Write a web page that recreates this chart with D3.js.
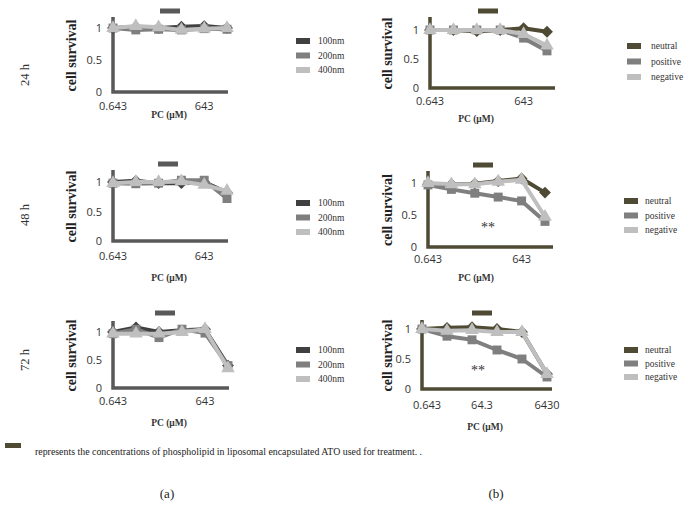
<!DOCTYPE html>
<html>
  <head>
    <meta charset="utf-8">
    <style>
      body { margin: 0; background: #fff; }
      text { font-family: "Liberation Serif", serif; }
    </style>
  </head>
  <body>
    <script src="https://d3js.org/d3.v7.min.js"></script>
    <script>
      // data (cell survival per concentration step)
      var steps = [0, 1, 2, 3, 4, 5];
      var sizeNames = ["100nm", "200nm", "400nm"];
      var chargeNames = ["neutral", "positive", "negative"];
      var yTicks = [0, 0.5, 1];

      var a24_100 = [1.00, 1.02, 1.00, 1.02, 1.03, 1.00];
      var a24_200 = [1.00, 0.97, 0.98, 0.97, 0.99, 0.98];
      var a24_400 = [1.00, 1.03, 1.01, 0.97, 0.99, 1.00];

      var a48_100 = [1.00, 1.02, 0.98, 0.98, 1.00, 0.82];
      var a48_200 = [0.98, 0.97, 0.98, 1.03, 1.03, 0.72];
      var a48_400 = [0.98, 1.00, 1.00, 1.01, 0.95, 0.85];

      var a72_100 = [1.00, 1.08, 1.00, 1.03, 1.05, 0.40];
      var a72_200 = [0.97, 1.05, 0.90, 1.05, 0.98, 0.40];
      var a72_400 = [0.97, 0.97, 0.97, 1.00, 1.05, 0.35];

      var b24_neu = [1.00, 1.00, 0.98, 1.00, 1.03, 0.97];
      var b24_pos = [1.00, 1.00, 1.00, 1.00, 0.86, 0.64];
      var b24_neg = [1.00, 1.00, 1.00, 1.00, 0.93, 0.73];

      var b48_neu = [0.98, 0.98, 0.99, 1.03, 1.07, 0.85];
      var b48_pos = [0.97, 0.90, 0.84, 0.78, 0.72, 0.40];
      var b48_neg = [1.00, 0.98, 0.98, 1.02, 1.05, 0.47];

      var b72_neu = [1.00, 1.02, 1.03, 1.00, 0.95, 0.25];
      var b72_pos = [1.00, 0.88, 0.82, 0.65, 0.50, 0.20];
      var b72_neg = [1.00, 0.97, 0.98, 0.95, 0.95, 0.25];

      var xLabelsAB = [{t: "0.643", at: 0}, {t: "643", at: 4}];
      var xLabels72b = [{t: "0.643", at: 0.2}, {t: "64.3", at: 2.4}, {t: "6430", at: 5}];
      var rowNames = ["24 h", "48 h", "72 h"];

      var grayA = "#595959", olive = "#4f4a33";
      var seriesCol = ["#404040", "#7f7f7f", "#bfbfbf"];
      var chargeCol = ["#4f4a33", "#7f7f7f", "#bfbfbf"];
      var symbols = [d3.symbolSquare, d3.symbolSquare, d3.symbolTriangle];
      var rotate = [45, 0, 0];

      var svg = d3.select("body").append("svg")
        .attr("width", 695).attr("height", 511);

      // panel layout: x range, y(0), y(1), axis top, x-axis end
      var panels = [
        {series: [a24_100, a24_200, a24_400], names: sizeNames, cols: seriesCol, axis: grayA,
         x0: 113, x1: 227, y0: 92, y1: 28, top: 17, right: 228, lab: xLabelsAB, labY: 110, pcX: 169, pcY: 118,
         ylX: 76, barX: 160, barY: 11, leg: {x: 296, y: 41, dy: 14.5, tx: 318}, star: null},
        {series: [a48_100, a48_200, a48_400], names: sizeNames, cols: seriesCol, axis: grayA,
         x0: 113, x1: 227, y0: 241, y1: 182, top: 170, right: 228, lab: xLabelsAB, labY: 260, pcX: 169, pcY: 281,
         ylX: 76, barX: 158, barY: 164, leg: {x: 296, y: 203, dy: 14.5, tx: 318}, star: null},
        {series: [a72_100, a72_200, a72_400], names: sizeNames, cols: seriesCol, axis: grayA,
         x0: 113, x1: 228, y0: 388, y1: 332, top: 321, right: 229, lab: xLabelsAB, labY: 405, pcX: 169, pcY: 426,
         ylX: 76, barX: 155, barY: 313, leg: {x: 296, y: 350, dy: 14.5, tx: 318}, star: null},
        {series: [b24_neu, b24_pos, b24_neg], names: chargeNames, cols: chargeCol, axis: olive,
         x0: 430, x1: 547, y0: 88, y1: 30, top: 17, right: 555, lab: xLabelsAB, labY: 105, pcX: 476, pcY: 122,
         ylX: 392, barX: 478, barY: 11, leg: {x: 627, y: 46, dy: 15.5, tx: 651}, star: null},
        {series: [b48_neu, b48_pos, b48_neg], names: chargeNames, cols: chargeCol, axis: olive,
         x0: 428, x1: 545, y0: 247, y1: 183, top: 171, right: 553, lab: xLabelsAB, labY: 263, pcX: 476, pcY: 281,
         ylX: 392, barX: 473, barY: 165, leg: {x: 624, y: 201, dy: 14.5, tx: 645}, star: {x: 488, y: 232}},
        {series: [b72_neu, b72_pos, b72_neg], names: chargeNames, cols: chargeCol, axis: olive,
         x0: 422, x1: 547, y0: 389, y1: 329, top: 320, right: 552, lab: xLabels72b, labY: 409, pcX: 485, pcY: 430,
         ylX: 392, barX: 472, barY: 313, leg: {x: 624, y: 350, dy: 13.5, tx: 645}, star: {x: 478, y: 375}}
      ];

      panels.forEach(function(p){
        var g = svg.append("g");
        var x = d3.scaleLinear().domain([0, 5]).range([p.x0, p.x1]);
        var y = d3.scaleLinear().domain([0, 1]).range([p.y0, p.y1]);

        // y tick labels
        var ya = g.append("g").attr("transform", "translate(" + p.x0 + ",0)")
          .call(d3.axisLeft(y).tickValues(yTicks).tickSize(0).tickPadding(11)
            .tickFormat(function(d){ return d === 0.5 ? "0.5" : d3.format("d")(d); }));
        ya.select(".domain").remove();
        ya.selectAll("text").style("font-family", "'Open Sans', sans-serif")
          .style("font-size", "11px").attr("fill", "#333");

        // thick axis lines
        g.append("path")
          .attr("d", "M" + p.x0 + "," + p.top + "V" + p.y0 + "H" + p.right)
          .attr("fill", "none").attr("stroke", p.axis).attr("stroke-width", 3.5);

        // x labels
        g.selectAll(".xl").data(p.lab).enter().append("text")
          .attr("x", function(d){ return x(d.at); }).attr("y", p.labY)
          .attr("text-anchor", "middle")
          .style("font-family", "'Open Sans', sans-serif").style("font-size", "11px")
          .attr("fill", "#333").text(function(d){ return d.t; });

        g.append("text").attr("x", p.pcX).attr("y", p.pcY).attr("text-anchor", "middle")
          .style("font-size", "9.5px").style("font-weight", "bold").attr("fill", "#333")
          .text("PC (\u03bcM)");

        g.append("text")
          .attr("transform", "translate(" + p.ylX + "," + ((p.y0 + p.top) / 2 + 1) + ") rotate(-90)")
          .attr("text-anchor", "middle").style("font-size", "14px").style("font-weight", "bold")
          .attr("fill", "#222").text("cell survival");

        // marker bar for concentrations
        g.append("rect").attr("x", p.barX).attr("y", p.barY - 2.5).attr("width", 20).attr("height", 5)
          .attr("fill", p.axis);

        // series
        var line = d3.line().x(function(d, i){ return x(steps[i]); }).y(function(d){ return y(d); });
        p.series.forEach(function(s, k){
          g.append("path").datum(s).attr("d", line).attr("fill", "none")
            .attr("stroke", p.cols[k]).attr("stroke-width", 4).attr("stroke-linejoin", "round");
          g.selectAll(".m" + k).data(s).enter().append("path")
            .attr("transform", function(d, i){
              return "translate(" + x(steps[i]) + "," + y(d) + ") rotate(" + rotate[k] + ")";
            })
            .attr("d", d3.symbol().type(symbols[k]).size(k === 0 ? 70 : 80))
            .attr("fill", p.cols[k]);
        });

        if (p.star) {
          g.append("text").attr("x", p.star.x).attr("y", p.star.y).attr("text-anchor", "middle")
            .style("font-size", "14px").attr("fill", "#333").text("**");
        }

        // legend
        p.names.forEach(function(n, k){
          g.append("rect").attr("x", p.leg.x).attr("y", p.leg.y + k * p.leg.dy - 3)
            .attr("width", 14).attr("height", 6).attr("fill", p.cols[k]);
          g.append("text").attr("x", p.leg.tx).attr("y", p.leg.y + k * p.leg.dy + 3)
            .style("font-size", "9.5px").attr("fill", "#333").text(n);
        });
      });

      // row labels
      var rowY = [75, 215, 360];
      rowNames.forEach(function(r, i){
        svg.append("text").attr("transform", "translate(29," + rowY[i] + ") rotate(-90)")
          .attr("text-anchor", "middle").style("font-size", "12.5px").attr("fill", "#333").text(r);
      });

      // footnote
      svg.append("rect").attr("x", 5).attr("y", 443).attr("width", 16).attr("height", 5).attr("fill", olive);
      svg.append("text").attr("x", 35).attr("y", 455).style("font-size", "9.9px").attr("fill", "#222")
        .text("represents the concentrations of phospholipid in liposomal encapsulated ATO used for treatment. .");

      svg.append("text").attr("x", 167).attr("y", 498).attr("text-anchor", "middle")
        .style("font-size", "13px").attr("fill", "#222").text("(a)");
      svg.append("text").attr("x", 496).attr("y", 498).attr("text-anchor", "middle")
        .style("font-size", "13px").attr("fill", "#222").text("(b)");
    </script>
  </body>
</html>
